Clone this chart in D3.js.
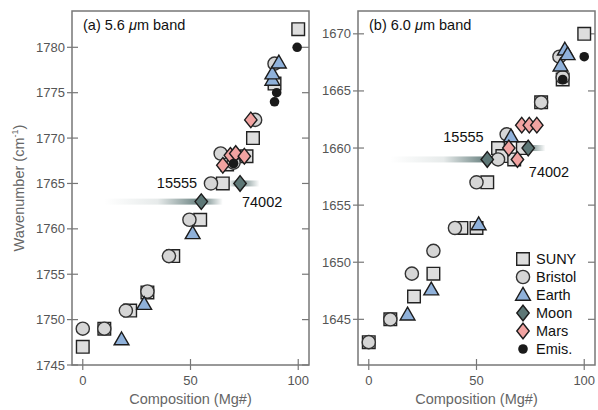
<!DOCTYPE html>
<html>
<head>
<meta charset="utf-8">
<script src="https://cdn.jsdelivr.net/npm/d3@7"></script>
<style>
  body { margin: 0; background: #fff; }
  text { font-family: "Liberation Sans", Arial, Helvetica, sans-serif; }
  .tick-label { fill: #555; font-size: 13px; }
  .axis-title { fill: #666; font-size: 14.5px; }
</style>
</head>
<body>
<div id="chart"></div>
<script>
const W = 598, H = 410;

// (a) 5.6 um band
const sunyA    = [[0,1747],[10,1749],[22,1751],[30,1753],[42,1757],[54.5,1761],[65,1765],[67,1767.1],[76,1768],[79,1770],[89,1776],[100,1782]];
const bristolA = [[0,1749],[10,1749],[20,1751],[30,1753.1],[40,1757],[49.5,1761],[59.5,1765],[64,1768.3],[70,1767.3],[80,1772],[89,1778.2]];
const earthA   = [[18,1747.8],[28.5,1751.7],[51,1759.5],[88,1776.4],[88,1777.1],[91,1778.3]];
const moonA    = [[55,1763],[73,1765]];
const moonRangeA = [[10,65],[63,82]];
const marsA    = [[65,1767],[68.5,1768.1],[71,1768.3],[75,1768],[78,1772]];
const emisA    = [[70,1767.2],[89,1774],[90,1775],[99.5,1780]];
const labelsA  = [['15555',53.1,1765,'end'],['74002',73.9,1763,'start']];

// (b) 6.0 um band
const sunyB    = [[0,1643],[10,1645],[21,1647],[30,1649],[43,1653],[50,1653],[55,1657],[60,1660],[62,1659.3],[67.5,1659],[71.5,1660],[80,1664],[90,1666],[100,1670]];
const bristolB = [[0,1643],[10,1645],[20,1649],[30,1651],[40,1653],[50,1657],[60,1659],[64,1661.2],[80,1664],[88.5,1668],[90,1666.2]];
const earthB   = [[18,1645.4],[29,1647.6],[51,1653.3],[66,1661],[89,1667.2],[91,1668.6],[92.3,1668.2]];
const moonB    = [[55,1659],[74,1660]];
const moonRangeB = [[10,62],[66,82]];
const marsB    = [[65,1660],[69,1659],[71,1662],[74.5,1662],[78,1662]];
const emisB    = [[90,1666],[100,1668]];
const labelsB  = [['15555',53.3,1661,'end'],['74002',74.3,1657.9,'start']];

const legendNames = ['SUNY','Bristol','Earth','Moon','Mars','Emis.'];

const STYLE = {
  SUNY:    { shape: 'square',   fill: '#dedede', stroke: '#222' },
  Bristol: { shape: 'circle',   fill: '#d6d6d6', stroke: '#333' },
  Earth:   { shape: 'triangle', fill: '#8fb1da', stroke: '#1c1c1c' },
  Moon:    { shape: 'diamond',  fill: '#5d7776', stroke: '#1c1c1c' },
  Mars:    { shape: 'diamond',  fill: '#f1a3a1', stroke: '#1c1c1c' },
  'Emis.': { shape: 'dot',      fill: '#1a1a1a', stroke: 'none' }
};

const markerPath = (shape) => {
  switch (shape) {
    case 'square':   return 'M-6.3,-6.3H6.3V6.3H-6.3Z';
    case 'circle':   return d3.arc()({innerRadius: 0, outerRadius: 6.6, startAngle: 0, endAngle: 2 * Math.PI});
    case 'triangle': return 'M0,-7.6L7.4,5.2L-7.4,5.2Z';
    case 'diamond':  return 'M0,-7.8L6.2,0L0,7.8L-6.2,0Z';
    case 'dot':      return d3.arc()({innerRadius: 0, outerRadius: 4.8, startAngle: 0, endAngle: 2 * Math.PI});
  }
};

const svg = d3.select('#chart').append('svg')
  .attr('width', W).attr('height', H);
const defs = svg.append('defs');

const panels = [
  { id: 'a', left: 72, right: 309, title: '(a) 5.6 ', yDomain: [1745, 1784], yTicks: d3.range(1745, 1781, 5),
    series: { SUNY: sunyA, Bristol: bristolA, Earth: earthA, Moon: moonA, Mars: marsA, 'Emis.': emisA },
    ranges: moonRangeA, labels: labelsA, yLabel: true },
  { id: 'b', left: 358, right: 595, title: '(b) 6.0 ', yDomain: [1641, 1672], yTicks: d3.range(1645, 1671, 5),
    series: { SUNY: sunyB, Bristol: bristolB, Earth: earthB, Moon: moonB, Mars: marsB, 'Emis.': emisB },
    ranges: moonRangeB, labels: labelsB, legend: true }
];
const TOP = 11, BOTTOM = 365;

panels.forEach(p => {
  const x = d3.scaleLinear().domain([-5, 105]).range([p.left, p.right]);
  const y = d3.scaleLinear().domain(p.yDomain).range([BOTTOM, TOP]);
  const g = svg.append('g');

  // frame
  g.append('rect')
    .attr('x', p.left).attr('y', TOP)
    .attr('width', p.right - p.left).attr('height', BOTTOM - TOP)
    .attr('fill', 'none').attr('stroke', '#777').attr('stroke-width', 1.5);

  // y ticks: crossing on the left, inward on the right
  const yt = g.append('g');
  p.yTicks.forEach(t => {
    yt.append('line').attr('x1', p.left - 5).attr('x2', p.left + 6)
      .attr('y1', y(t)).attr('y2', y(t)).attr('stroke', '#777').attr('stroke-width', 1.2);
    yt.append('line').attr('x1', p.right - 7).attr('x2', p.right)
      .attr('y1', y(t)).attr('y2', y(t)).attr('stroke', '#777').attr('stroke-width', 1.2);
    yt.append('text').attr('class', 'tick-label')
      .attr('x', p.left - 7).attr('y', y(t) + 4.5)
      .attr('text-anchor', 'end').text(t);
  });
  [0, 50, 100].forEach(t => {
    yt.append('line').attr('x1', x(t)).attr('x2', x(t))
      .attr('y1', BOTTOM - 6).attr('y2', BOTTOM + 5).attr('stroke', '#777').attr('stroke-width', 1.2);
    yt.append('text').attr('class', 'tick-label')
      .attr('x', x(t)).attr('y', BOTTOM + 20)
      .attr('text-anchor', 'middle').text(t);
  });

  g.append('text').attr('class', 'axis-title')
    .attr('x', (p.left + p.right) / 2).attr('y', 404)
    .attr('text-anchor', 'middle').text('Composition (Mg#)');

  if (p.yLabel) {
    const yl = g.append('text').attr('class', 'axis-title')
      .attr('transform', `translate(24, ${(TOP + BOTTOM) / 2}) rotate(-90)`)
      .attr('text-anchor', 'middle');
    yl.append('tspan').text('Wavenumber (cm');
    yl.append('tspan').attr('font-size', '9px').attr('dy', -6).text('-1');
    yl.append('tspan').attr('dy', 6).text(')');
  }

  // title
  const tt = g.append('text').attr('x', p.left + 11).attr('y', TOP + 19)
    .attr('font-size', '14.5px').attr('fill', '#111');
  tt.append('tspan').text(p.title);
  tt.append('tspan').attr('font-style', 'italic').text('μ');
  tt.append('tspan').text('m band');

  // moon composition ranges as fading bars
  p.series.Moon.forEach((d, i) => {
    const [lo, hi] = p.ranges[i];
    const gid = `grad-${p.id}-${i}`;
    const frac = (d[0] - lo) / (hi - lo);
    const grad = defs.append('linearGradient').attr('id', gid)
      .attr('x1', '0%').attr('x2', '100%');
    grad.append('stop').attr('offset', 0).attr('stop-color', '#5d7776').attr('stop-opacity', 0);
    grad.append('stop').attr('offset', frac * 0.55).attr('stop-color', '#5d7776').attr('stop-opacity', 0.15);
    grad.append('stop').attr('offset', frac).attr('stop-color', '#5d7776').attr('stop-opacity', 0.95);
    grad.append('stop').attr('offset', 1).attr('stop-color', '#5d7776').attr('stop-opacity', 0);
    g.append('rect')
      .attr('x', x(lo)).attr('y', y(d[1]) - 3)
      .attr('width', x(hi) - x(lo)).attr('height', 6)
      .attr('fill', `url(#${gid})`);
  });

  // markers
  ['SUNY', 'Bristol', 'Earth', 'Moon', 'Mars', 'Emis.'].forEach(name => {
    const s = STYLE[name];
    g.append('g').selectAll('path')
      .data(p.series[name])
      .join('path')
      .attr('d', markerPath(s.shape))
      .attr('transform', d => `translate(${x(d[0])}, ${y(d[1])})`)
      .attr('fill', s.fill)
      .attr('stroke', s.stroke)
      .attr('stroke-width', 1.4);
  });

  // sample labels
  g.append('g').selectAll('text')
    .data(p.labels)
    .join('text')
    .attr('x', d => x(d[1])).attr('y', d => y(d[2]) + 5)
    .attr('text-anchor', d => d[3])
    .attr('font-size', '14.5px').attr('fill', '#111')
    .text(d => d[0]);

  if (p.legend) {
    const lg = g.append('g').attr('transform', 'translate(523, 259)');
    legendNames.forEach((name, i) => {
      const s = STYLE[name];
      const row = lg.append('g').attr('transform', `translate(0, ${i * 18})`);
      row.append('path').attr('d', markerPath(s.shape))
        .attr('fill', s.fill).attr('stroke', s.stroke).attr('stroke-width', 1.4);
      row.append('text').attr('x', 13).attr('y', 5)
        .attr('font-size', '14.5px').attr('fill', '#111').text(name);
    });
  }
});
</script>
</body>
</html>
